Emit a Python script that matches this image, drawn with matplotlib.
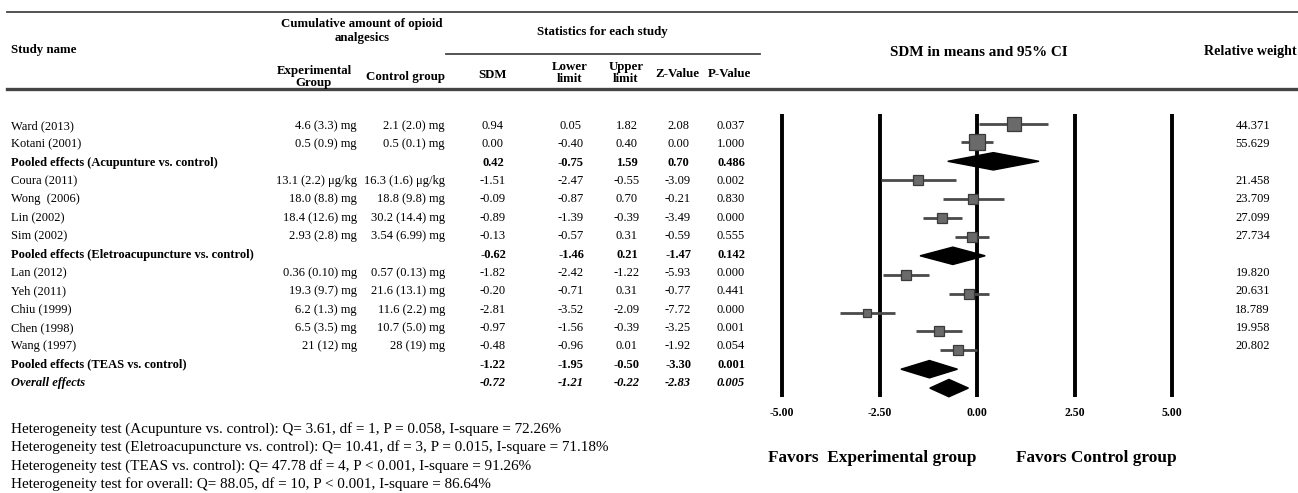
import numpy as np
import matplotlib
matplotlib.use("Agg")
import matplotlib.pyplot as plt

plt.rcParams['font.family'] = ['Liberation Serif', 'DejaVu Serif']

# ---------------- data ----------------
names = ["Ward (2013)", "Kotani (2001)", "Pooled effects (Acupunture vs. control)",
         "Coura (2011)", "Wong  (2006)", "Lin (2002)", "Sim (2002)",
         "Pooled effects (Eletroacupuncture vs. control)",
         "Lan (2012)", "Yeh (2011)", "Chiu (1999)", "Chen (1998)", "Wang (1997)",
         "Pooled effects (TEAS vs. control)", "Overall effects"]
kind = ["study", "study", "pooled", "study", "study", "study", "study", "pooled",
        "study", "study", "study", "study", "study", "pooled", "overall"]
exp_group = ["4.6 (3.3) mg", "0.5 (0.9) mg", "", "13.1 (2.2) \u03bcg/kg", "18.0 (8.8) mg",
             "18.4 (12.6) mg", "2.93 (2.8) mg", "", "0.36 (0.10) mg", "19.3 (9.7) mg",
             "6.2 (1.3) mg", "6.5 (3.5) mg", "21 (12) mg", "", ""]
ctrl_group = ["2.1 (2.0) mg", "0.5 (0.1) mg", "", "16.3 (1.6) \u03bcg/kg", "18.8 (9.8) mg",
              "30.2 (14.4) mg", "3.54 (6.99) mg", "", "0.57 (0.13) mg", "21.6 (13.1) mg",
              "11.6 (2.2) mg", "10.7 (5.0) mg", "28 (19) mg", "", ""]
sdm = [0.94, 0.00, 0.42, -1.51, -0.09, -0.89, -0.13, -0.62, -1.82, -0.20, -2.81, -0.97, -0.48, -1.22, -0.72]
lower = [0.05, -0.40, -0.75, -2.47, -0.87, -1.39, -0.57, -1.46, -2.42, -0.71, -3.52, -1.56, -0.96, -1.95, -1.21]
upper = [1.82, 0.40, 1.59, -0.55, 0.70, -0.39, 0.31, 0.21, -1.22, 0.31, -2.09, -0.39, 0.01, -0.50, -0.22]
zval = [2.08, 0.00, 0.70, -3.09, -0.21, -3.49, -0.59, -1.47, -5.93, -0.77, -7.72, -3.25, -1.92, -3.30, -2.83]
pval = [0.037, 1.000, 0.486, 0.002, 0.830, 0.000, 0.555, 0.142, 0.000, 0.441, 0.000, 0.001, 0.054, 0.001, 0.005]
weight = [44.371, 55.629, None, 21.458, 23.709, 27.099, 27.734, None,
          19.820, 20.631, 18.789, 19.958, 20.802, None, None]
ticks = [-5.0, -2.5, 0.0, 2.5, 5.0]
hetero = ["Heterogeneity test (Acupunture vs. control): Q= 3.61, df = 1, P = 0.058, I-square = 72.26%",
          "Heterogeneity test (Eletroacupuncture vs. control): Q= 10.41, df = 3, P = 0.015, I-square = 71.18%",
          "Heterogeneity test (TEAS vs. control): Q= 47.78 df = 4, P < 0.001, I-square = 91.26%",
          "Heterogeneity test for overall: Q= 88.05, df = 10, P < 0.001, I-square = 86.64%"]

# ---------------- layout ----------------
W, H = 1298, 493
fig = plt.figure(figsize=(W / 100, H / 100), dpi=100)
ov = fig.add_axes([0, 0, 1, 1])
ov.set_xlim(0, W)
ov.set_ylim(H, 0)
ov.axis('off')

row0, dy = 126, 18.36
fs = 9
hfs = 9.3
hc = '#444444'

# header
ov.plot([7, W], [12, 12], color=hc, lw=1.3)
ov.plot([7, W], [89, 89], color=hc, lw=2.4)
ov.plot([446, 760], [54, 54], color=hc, lw=1.3)
hk = dict(fontsize=hfs, fontweight='bold', va='center')
ov.text(11, 50, "Study name", ha='left', **hk)
ov.text(362, 31, "Cumulative amount of opioid\nanalgesics", ha='center', linespacing=1.2, **hk)
ov.text(602, 32, "Statistics for each study", ha='center', **hk)
ov.text(314, 77, "Experimental\nGroup", ha='center', linespacing=1.05, **hk)
ov.text(406, 77, "Control group", ha='center', **hk)
ov.text(493, 75, "SDM", ha='center', **hk)
ov.text(570, 73, "Lower\nlimit", ha='center', linespacing=1.0, **hk)
ov.text(626, 73, "Upper\nlimit", ha='center', linespacing=1.0, **hk)
ov.text(677, 74, "Z-Value", ha='center', **hk)
ov.text(730, 74, "P-Value", ha='center', **hk)
ov.text(979, 52, "SDM in means and 95% CI", fontsize=10.9, fontweight='bold', va='center', ha='center')
ov.text(1204, 52, "Relative weight", fontsize=10.1, fontweight='bold', va='center', ha='left')

# rows
for i, nm in enumerate(names):
    y = row0 + i * dy
    if kind[i] == "study":
        wgt, sty = 'normal', 'normal'
    elif kind[i] == "pooled":
        wgt, sty = 'bold', 'normal'
    else:
        wgt, sty = 'bold', 'italic'
    kw = dict(fontsize=fs, fontweight=wgt, fontstyle=sty, va='center')
    ov.text(11, y, nm, ha='left', **kw)
    ov.text(357, y, exp_group[i], ha='right', **kw)
    ov.text(445, y, ctrl_group[i], ha='right', **kw)
    ov.text(493, y, f"{sdm[i]:.2f}", ha='center', **kw)
    ov.text(571, y, f"{lower[i]:.2f}", ha='center', **kw)
    ov.text(627, y, f"{upper[i]:.2f}", ha='center', **kw)
    ov.text(678, y, f"{zval[i]:.2f}", ha='center', **kw)
    ov.text(731, y, f"{pval[i]:.3f}", ha='center', **kw)
    if weight[i] is not None:
        ov.text(1270, y, f"{weight[i]:.3f}", ha='right', **kw)

for k, t in enumerate(hetero):
    ov.text(11, 429 + k * 18.3, t, fontsize=10.9, va='center', ha='left')

ov.text(768, 458, "Favors  Experimental group", fontsize=12.4, fontweight='bold', va='center', ha='left')
ov.text(1016, 458, "Favors Control group", fontsize=12.4, fontweight='bold', va='center', ha='left')

# forest axes
ppu = 39.0
xl = 5.3
xz = 977
x0, x1 = xz - xl * ppu, xz + xl * ppu
ytop, ybot = 114, 397
frow0, fdy = 123.5, 18.9
ax = fig.add_axes([x0 / W, 1 - ybot / H, (x1 - x0) / W, (ybot - ytop) / H])
ax.patch.set_alpha(0)
ax.set_xlim(-xl, xl)
ax.set_ylim((ybot - frow0) / fdy, (ytop - frow0) / fdy)
for s in ax.spines.values():
    s.set_visible(False)
ax.set_yticks([])
ax.set_xticks(ticks)
ax.set_xticklabels([f"{t:.2f}" for t in ticks], fontsize=8.5, fontweight='bold')
ax.tick_params(axis='x', length=0, pad=7)
for t in ticks:
    ax.axvline(t, color='black', lw=2.8, zorder=1)

hh = 0.46
for i in range(len(names)):
    if kind[i] == "study":
        ax.hlines(i, lower[i], upper[i], color='#4a4a4a', lw=2.0, zorder=3)
        ax.plot(sdm[i], i, marker='s', ms=2.05 * np.sqrt(weight[i]) * 0.72,
                mfc='#6a6a6a', mec='#3a3a3a', mew=0.9, zorder=4)
    else:
        ax.fill([lower[i], sdm[i], upper[i], sdm[i]], [i, i - hh, i, i + hh],
                color='black', zorder=4, clip_on=False)

fig.savefig("out.png", dpi=100)
